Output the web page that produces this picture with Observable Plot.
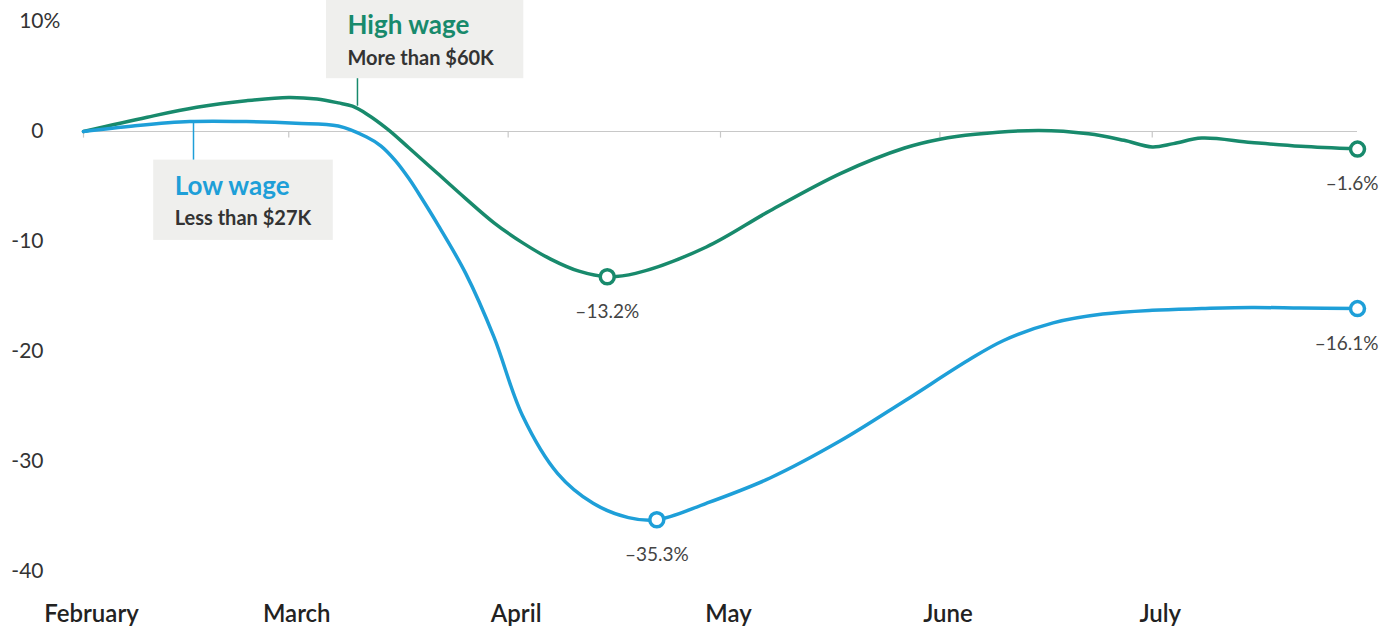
<!DOCTYPE html>
<html>
<head>
<meta charset="utf-8">
<script src="https://cdn.jsdelivr.net/npm/d3@7"></script>
<script src="https://cdn.jsdelivr.net/npm/@observablehq/plot@0.6"></script>
<style>
  html, body { margin: 0; padding: 0; background: #fff; }
  #chart svg { display: block; }
</style>
</head>
<body>
<div id="chart"></div>
<script>
// ---- Data ----
const highDates = ["2020-02-01","2020-02-10","2020-02-17","2020-02-24","2020-03-01","2020-03-05","2020-03-08","2020-03-10","2020-03-12","2020-03-15","2020-03-18","2020-03-22","2020-03-26","2020-03-30","2020-04-03","2020-04-07","2020-04-11","2020-04-15","2020-04-19","2020-04-29","2020-05-08","2020-05-18","2020-05-27","2020-06-01","2020-06-06","2020-06-15","2020-06-22","2020-06-27","2020-07-01","2020-07-04","2020-07-08","2020-07-15","2020-07-22","2020-07-30"];
const highValues = [0, 1.3, 2.2, 2.8, 3.1, 2.95, 2.6, 2.3, 1.6, 0.2, -1.5, -3.8, -6.1, -8.3, -10.1, -11.6, -12.7, -13.2, -12.9, -10.5, -7.2, -3.8, -1.5, -0.7, -0.25, 0.1, -0.2, -0.8, -1.4, -1.1, -0.6, -1.0, -1.35, -1.6];

const lowDates = ["2020-02-01","2020-02-08","2020-02-16","2020-02-24","2020-03-02","2020-03-08","2020-03-12","2020-03-14","2020-03-16","2020-03-18","2020-03-20","2020-03-22","2020-03-26","2020-03-30","2020-04-03","2020-04-08","2020-04-13","2020-04-18","2020-04-22","2020-04-29","2020-05-08","2020-05-18","2020-05-27","2020-06-05","2020-06-10","2020-06-17","2020-06-24","2020-07-01","2020-07-08","2020-07-15","2020-07-22","2020-07-30"];
const lowValues = [0, 0.5, 0.9, 0.9, 0.75, 0.5, -0.5, -1.3, -2.6, -4.3, -6.3, -8.4, -12.9, -18.7, -25.8, -31.1, -33.8, -35.1, -35.3, -33.8, -31.5, -28.1, -24.5, -20.8, -19.0, -17.4, -16.6, -16.25, -16.1, -16.0, -16.05, -16.1];

const monthTicks = ["2020-02-01","2020-03-01","2020-04-01","2020-05-01","2020-06-01","2020-07-01"];
const yTicks = [-40, -30, -20, -10, 0, 10];

// highlighted points
const markSeries = ["High", "High", "Low", "Low"];
const markDates = ["2020-04-15", "2020-07-30", "2020-04-22", "2020-07-30"];
const markValues = [-13.2, -1.6, -35.3, -16.1];
const markLabels = ["–13.2%", "–1.6%", "–35.3%", "–16.1%"];

// annotation boxes
const annSeries = ["High", "Low"];
const annTitles = ["High wage", "Low wage"];
const annSubs = ["More than $60K", "Less than $27K"];
const annBoxX1 = ["2020-03-06T08:00", "2020-02-10T22:00"];
const annBoxX2 = ["2020-04-03T05:00", "2020-03-07T07:00"];
const annBoxY1 = [12.0, -2.6];
const annBoxY2 = [4.8, -9.9];
const annLeaderX = ["2020-03-10T17:00", "2020-02-16T13:00"];
const annLeaderY1 = [4.8, 0.9];
const annLeaderY2 = [2.3, -2.6];

// ---- Build tables ----
const parse = s => new Date(s + (s.length === 10 ? "T00:00Z" : "Z"));
const colors = { High: "#188a6c", Low: "#1e9fd8" };
const high = highDates.map((d, i) => ({ date: parse(d), value: highValues[i], series: "High" }));
const low = lowDates.map((d, i) => ({ date: parse(d), value: lowValues[i], series: "Low" }));
const marks = markDates.map((d, i) => ({ date: parse(d), value: markValues[i], series: markSeries[i], label: markLabels[i], end: i % 2 === 1 }));
const anns = annTitles.map((t, i) => ({
  series: annSeries[i], title: t, sub: annSubs[i],
  x1: parse(annBoxX1[i]), x2: parse(annBoxX2[i]), y1: annBoxY1[i], y2: annBoxY2[i],
  lx: parse(annLeaderX[i]), ly1: annLeaderY1[i], ly2: annLeaderY2[i]
}));
const ticks = monthTicks.map(parse);

const font = "Lato, 'Open Sans', sans-serif";

const chart = Plot.plot({
  width: 1397,
  height: 628,
  marginLeft: 83,
  marginRight: 40,
  marginTop: 21,
  marginBottom: 57,
  style: { fontFamily: font, background: "#fff", overflow: "visible" },
  x: { type: "utc", domain: [parse("2020-02-01"), parse("2020-07-30")] },
  y: { domain: [-40, 10] },
  marks: [
    Plot.axisY({ ticks: yTicks, tickSize: 0, tickPadding: 40, tickFormat: d => String(d), fontSize: 21, fill: "#333", textAnchor: "end" }),
    Plot.text(["%"], { x: () => parse("2020-02-01"), y: () => 10, text: d => d, dx: -40, textAnchor: "start", fontSize: 21, fill: "#333" }),
    Plot.axisX({ ticks: ticks, tickSize: 0, tickPadding: 33, tickFormat: d3.utcFormat("%B"), fontSize: 24, fontWeight: 600, fill: "#222", dx: 8 }),
    Plot.ruleY([0], { stroke: "#c8c8c8", strokeWidth: 1.2 }),
    Plot.ruleX(ticks, { x: d => d, y1: 0, y2: -0.6, stroke: "#c8c8c8", strokeWidth: 1.2 }),
    // annotation boxes
    Plot.rect(anns, { x1: "x1", x2: "x2", y1: "y1", y2: "y2", fill: "#efefed" }),
    Plot.ruleX(anns, { x: "lx", y1: "ly1", y2: "ly2", stroke: d => colors[d.series], strokeWidth: 1.5 }),
    Plot.text(anns, { x: "x1", y: "y1", text: "title", textAnchor: "start", lineAnchor: "top", dx: 21, dy: 16, fontSize: 26, fontWeight: 700, fill: d => colors[d.series] }),
    Plot.text(anns, { x: "x1", y: "y1", text: "sub", textAnchor: "start", lineAnchor: "top", dx: 21, dy: 51, fontSize: 20, fontWeight: 700, fill: "#333" }),
    // lines
    Plot.line(high, { x: "date", y: "value", stroke: colors.High, strokeWidth: 3.5, curve: "catmull-rom" }),
    Plot.line(low, { x: "date", y: "value", stroke: colors.Low, strokeWidth: 3.5, curve: "catmull-rom" }),
    // markers
    Plot.dot(marks, { x: "date", y: "value", r: 7, fill: "#fff", stroke: d => colors[d.series], strokeWidth: 3.5 }),
    Plot.text(marks.filter(d => !d.end), { x: "date", y: "value", text: "label", dy: 35, fontSize: 19, fill: "#444" }),
    Plot.text(marks.filter(d => d.end), { x: "date", y: "value", text: "label", dy: 35, dx: 21, textAnchor: "end", fontSize: 19, fill: "#444" })
  ]
});
document.getElementById("chart").appendChild(chart);
</script>
</body>
</html>
